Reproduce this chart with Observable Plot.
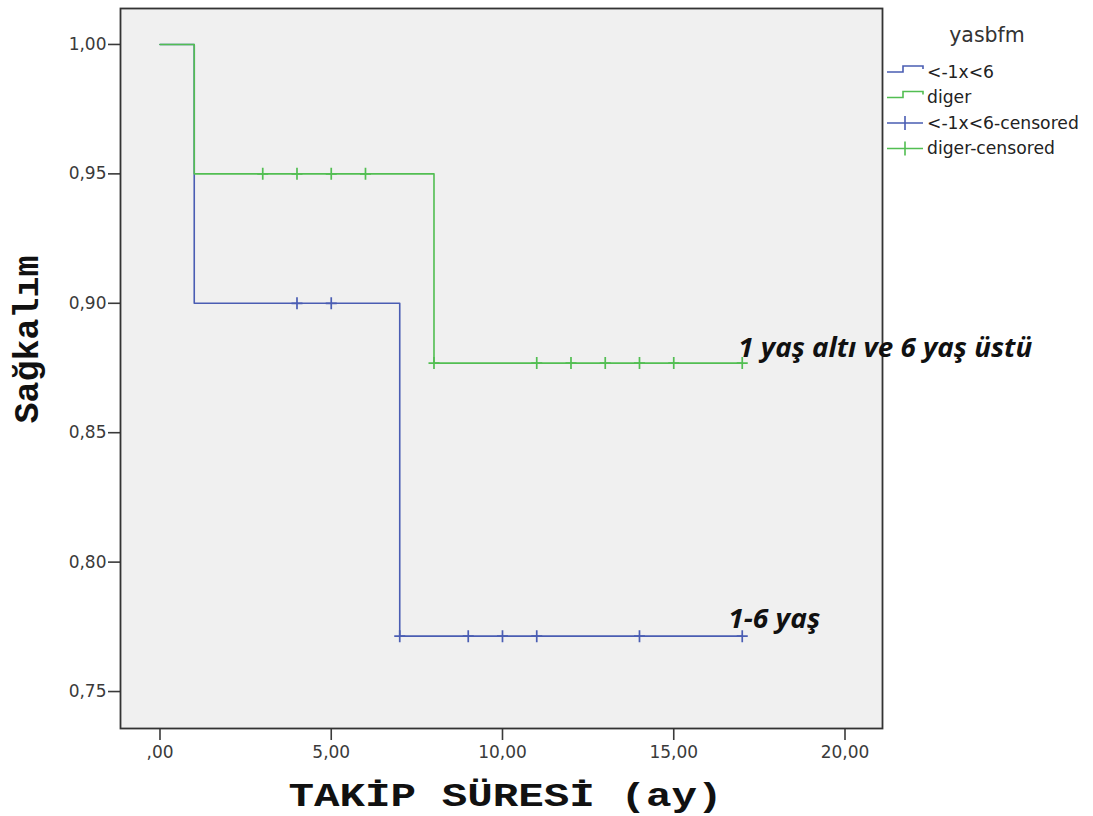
<!DOCTYPE html>
<html><head><meta charset="utf-8">
<script src="https://cdn.jsdelivr.net/npm/d3@7"></script>
<script src="https://cdn.jsdelivr.net/npm/@observablehq/plot@0.6"></script>
<style>body{margin:0;background:#fff} svg{display:block}</style>
</head><body><div id="chart"></div>
<script>
// ---- data ----
const groups = ["<-1x<6", "diger"];
const groupColors = ["#4a5db3", "#52be52"];
const blueTimes = [0, 1, 7, 17];
const blueSurv = [1.0, 0.90, 0.7714, 0.7714];
const greenTimes = [0, 1, 8, 17];
const greenSurv = [1.0, 0.95, 0.8769, 0.8769];
const blueCensTimes = [4, 5, 7, 9, 10, 11, 14, 17];
const greenCensTimes = [3, 4, 5, 6, 8, 11, 12, 13, 14, 15, 17];
const xTicks = [0, 5, 10, 15, 20];
const yTicks = [0.75, 0.80, 0.85, 0.90, 0.95, 1.00];
const annotations = ["1-6 yaş", "1 yaş altı ve 6 yaş üstü"];
const legendTitle = "yasbfm";
const legendLabels = ["<-1x<6", "diger", "<-1x<6-censored", "diger-censored"];
const xLabel = "TAKİP SÜRESİ (ay)";
const yLabel = "Sağkalım";

// ---- tables ----
const curves = [
  blueTimes.map((t, i) => ({t, s: blueSurv[i], g: groups[0]})),
  greenTimes.map((t, i) => ({t, s: greenSurv[i], g: groups[1]}))
];
function survAt(times, surv, t) { let v = surv[0]; times.forEach((tt, i) => { if (tt <= t) v = surv[i]; }); return v; }
const cens = [
  blueCensTimes.map(t => ({t, s: survAt(blueTimes, blueSurv, t), g: groups[0]})),
  greenCensTimes.map(t => ({t, s: survAt(greenTimes, greenSurv, t), g: groups[1]}))
];
const ends = [curves[0][curves[0].length - 1], curves[1][curves[1].length - 1]];

const cross = {draw(ctx) { ctx.moveTo(-5.5, 0); ctx.lineTo(5.5, 0); ctx.moveTo(0, -6); ctx.lineTo(0, 6); }};
const fmt = d => d === 0 ? ",00" : d.toFixed(2).replace(".", ",");

const chart = Plot.plot({
  width: 1093, height: 816,
  marginLeft: 120, marginRight: 211, marginTop: 8, marginBottom: 88,
  style: {background: "#fff", fontFamily: "DejaVu Sans"},
  x: {domain: [-1.153, 21.095]},
  y: {domain: [0.73572, 1.01389]},
  marks: [
    Plot.frame({fill: "#f0f0f0", stroke: null}),
    Plot.axisX({ticks: xTicks, tickFormat: fmt, tickSize: 12, tickPadding: 5, fontSize: 17, color: "#3a3a3a", strokeWidth: 1.6, label: null}),
    Plot.axisY({ticks: yTicks, tickFormat: fmt, tickSize: 12, tickPadding: 2, fontSize: 17, color: "#3a3a3a", strokeWidth: 1.6, label: null}),
    Plot.line(curves[0], {x: "t", y: "s", curve: "step-after", stroke: groupColors[0], strokeWidth: 1.6}),
    Plot.line(curves[1], {x: "t", y: "s", curve: "step-after", stroke: groupColors[1], strokeWidth: 1.6}),
    Plot.dot(cens[0], {x: "t", y: "s", symbol: cross, fill: "none", stroke: groupColors[0], strokeWidth: 1.7}),
    Plot.dot(cens[1], {x: "t", y: "s", symbol: cross, fill: "none", stroke: groupColors[1], strokeWidth: 1.7}),
    Plot.frame({stroke: "#333", strokeWidth: 1.8}),
    Plot.text([ends[0]], {x: "t", y: "s", text: () => annotations[0], textAnchor: "start", lineAnchor: "bottom", dx: -14, dy: -8, fontSize: 26, fontWeight: "bold", fontStyle: "italic", fontFamily: "Open Sans", fill: "#111"}),
    Plot.text([ends[1]], {x: "t", y: "s", text: () => annotations[1], textAnchor: "start", lineAnchor: "bottom", dx: -4, dy: -6, fontSize: 26, fontWeight: "bold", fontStyle: "italic", fontFamily: "Open Sans", fill: "#111"}),
    Plot.text([xLabel], {frameAnchor: "bottom", textAnchor: "middle", lineAnchor: "bottom", dx: 4, dy: 77, fontSize: 34, fontWeight: "bold", fontFamily: "Liberation Mono", fill: "#111"}),
    Plot.text([yLabel], {frameAnchor: "left", textAnchor: "middle", rotate: -90, lineAnchor: "bottom", dx: -83, dy: -29, fontSize: 35, fontWeight: "bold", fontFamily: "Liberation Mono", fill: "#111"})
  ]
});
document.getElementById("chart").appendChild(chart);

const svg = d3.select(chart);
// stretch a few texts horizontally to the widths seen in the reference
const stretch = {[xLabel]: 434, [annotations[0]]: 92, [annotations[1]]: 294};
svg.selectAll("text").each(function() {
  const w = stretch[this.textContent];
  if (w) { this.setAttribute("textLength", w); this.setAttribute("lengthAdjust", "spacingAndGlyphs"); }
});

// ---- legend (outside the plot frame, on the right) ----
const lg = svg.append("g").attr("font-family", "DejaVu Sans").attr("text-anchor", "start");
lg.append("text").attr("x", 987).attr("y", 42).attr("text-anchor", "middle").attr("font-size", 20.5).attr("fill", "#333").text(legendTitle);
const rowY = [72, 97.5, 123, 148.5];
legendLabels.forEach((lab, i) => {
  const c = rowY[i];
  const col = groupColors[i % 2];
  if (i < 2) {
    lg.append("path").attr("d", `M887,${c}H903V${c - 6}H923V${c - 3}`).attr("fill", "none").attr("stroke", col).attr("stroke-width", 1.6);
  } else {
    lg.append("path").attr("d", `M887,${c}H923M905,${c - 7}V${c + 7}`).attr("fill", "none").attr("stroke", col).attr("stroke-width", 1.6);
  }
  lg.append("text").attr("x", 927).attr("y", c + 5.5).attr("text-anchor", "start").attr("font-size", 17.2).attr("fill", "#222").text(lab);
});
</script>
</body></html>
